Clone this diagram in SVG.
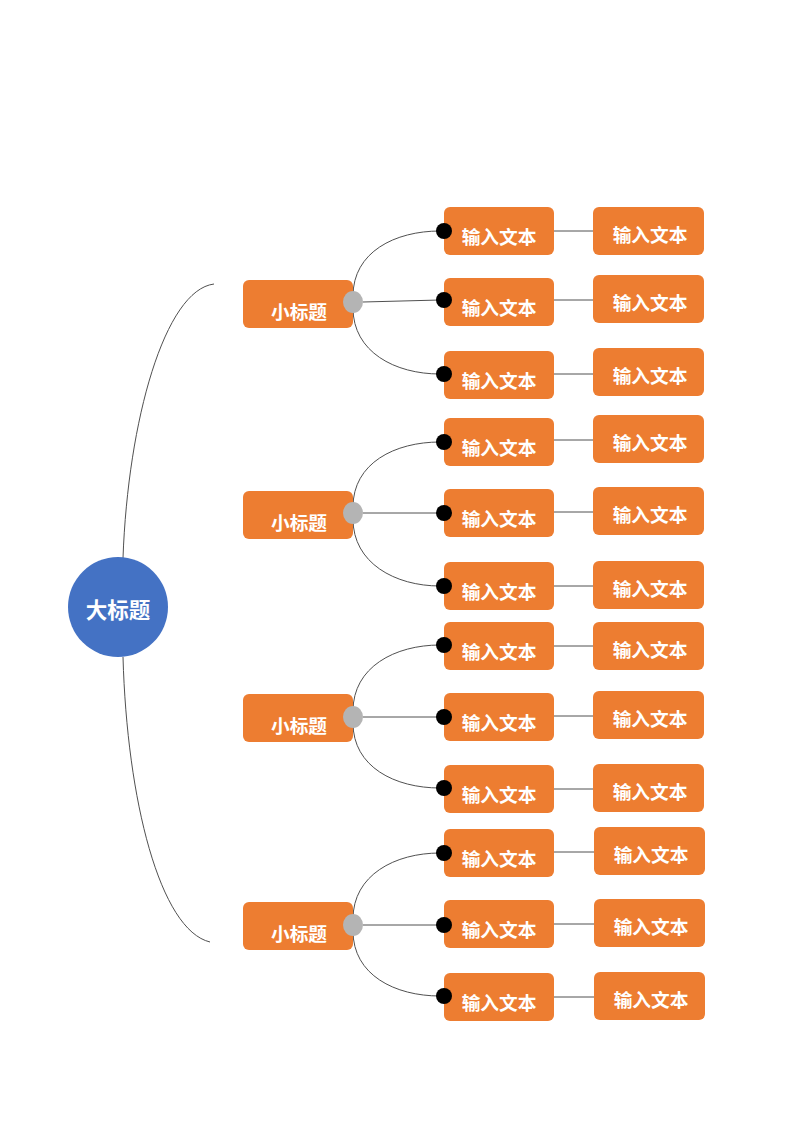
<svg xmlns="http://www.w3.org/2000/svg" width="800" height="1131" viewBox="0 0 800 1131">
<style>
.box{fill:#ED7D31}
.t{fill:#fff;font-family:"Noto Sans CJK SC","Liberation Sans",sans-serif;font-weight:bold;text-anchor:middle;dominant-baseline:central}
.t1{font-size:18.7px}
.t0{font-size:21.5px}
.ln{fill:none;stroke:#505050;stroke-width:1}
.dot{fill:#000}
.knob{fill:#B4B4B4}
</style>
<rect width="800" height="1131" fill="#fff"/>
<g id="connectors">
<path class="ln" d="M214,284 C165,290 128,420 123,558"/>
<path class="ln" d="M123,657 C127,800 160,930 210,942"/>
<!-- group 1 -->
<path class="ln" d="M353,296 C353,252 395,231 440,231"/>
<path class="ln" d="M363,302 L440,300"/>
<path class="ln" d="M353,308 C353,352 395,374 440,374"/>
<path class="ln" d="M554,231 L593,231"/>
<path class="ln" d="M554,300 L593,300"/>
<path class="ln" d="M554,374 L593,374"/>
<!-- group 2 -->
<path class="ln" d="M353,507 C353,463 395,442 440,442"/>
<path class="ln" d="M363,513 L440,513"/>
<path class="ln" d="M353,519 C353,563 395,586 440,586"/>
<path class="ln" d="M554,440 L593,440"/>
<path class="ln" d="M554,512 L593,512"/>
<path class="ln" d="M554,586 L593,586"/>
<!-- group 3 -->
<path class="ln" d="M353,711 C353,667 395,645 440,645"/>
<path class="ln" d="M363,717 L440,717"/>
<path class="ln" d="M353,723 C353,767 395,788 440,788"/>
<path class="ln" d="M554,646 L593,646"/>
<path class="ln" d="M554,716 L593,716"/>
<path class="ln" d="M554,789 L593,789"/>
<!-- group 4 -->
<path class="ln" d="M353,919 C353,875 395,853 440,853"/>
<path class="ln" d="M363,925 L440,925"/>
<path class="ln" d="M353,931 C353,975 395,996 440,996"/>
<path class="ln" d="M554,852 L594,852"/>
<path class="ln" d="M554,924 L594,924"/>
<path class="ln" d="M554,997 L594,997"/>
</g>
<g id="root">
<circle cx="118" cy="607" r="50" fill="#4472C4"/>
<text class="t t0" x="118" y="608">大标题</text>
</g>
<g id="sub1"><rect class="box" x="243" y="280" width="110" height="48" rx="6"/><text class="t t1" x="299" y="310">小标题</text></g>
<g id="sub2"><rect class="box" x="243" y="491" width="110" height="48" rx="6"/><text class="t t1" x="299" y="521">小标题</text></g>
<g id="sub3"><rect class="box" x="243" y="694" width="110" height="48" rx="6"/><text class="t t1" x="299" y="724">小标题</text></g>
<g id="sub4"><rect class="box" x="243" y="902" width="110" height="48" rx="6"/><text class="t t1" x="299" y="932">小标题</text></g>

<g id="g1a1"><rect class="box" x="444" y="207" width="110" height="48" rx="6"/><text class="t t1" x="499" y="235">输入文本</text></g>
<g id="g1a2"><rect class="box" x="444" y="278" width="110" height="48" rx="6"/><text class="t t1" x="499" y="306">输入文本</text></g>
<g id="g1a3"><rect class="box" x="444" y="351" width="110" height="48" rx="6"/><text class="t t1" x="499" y="379">输入文本</text></g>
<g id="g1b1"><rect class="box" x="593" y="207" width="111" height="48" rx="6"/><text class="t t1" x="650" y="233">输入文本</text></g>
<g id="g1b2"><rect class="box" x="593" y="275" width="111" height="48" rx="6"/><text class="t t1" x="650" y="301">输入文本</text></g>
<g id="g1b3"><rect class="box" x="593" y="348" width="111" height="48" rx="6"/><text class="t t1" x="650" y="374">输入文本</text></g>

<g id="g2a1"><rect class="box" x="444" y="418" width="110" height="48" rx="6"/><text class="t t1" x="499" y="446">输入文本</text></g>
<g id="g2a2"><rect class="box" x="444" y="489" width="110" height="48" rx="6"/><text class="t t1" x="499" y="517">输入文本</text></g>
<g id="g2a3"><rect class="box" x="444" y="562" width="110" height="48" rx="6"/><text class="t t1" x="499" y="590">输入文本</text></g>
<g id="g2b1"><rect class="box" x="593" y="415" width="111" height="48" rx="6"/><text class="t t1" x="650" y="441">输入文本</text></g>
<g id="g2b2"><rect class="box" x="593" y="487" width="111" height="48" rx="6"/><text class="t t1" x="650" y="513">输入文本</text></g>
<g id="g2b3"><rect class="box" x="593" y="561" width="111" height="48" rx="6"/><text class="t t1" x="650" y="587">输入文本</text></g>

<g id="g3a1"><rect class="box" x="444" y="622" width="110" height="48" rx="6"/><text class="t t1" x="499" y="650">输入文本</text></g>
<g id="g3a2"><rect class="box" x="444" y="693" width="110" height="48" rx="6"/><text class="t t1" x="499" y="721">输入文本</text></g>
<g id="g3a3"><rect class="box" x="444" y="765" width="110" height="48" rx="6"/><text class="t t1" x="499" y="793">输入文本</text></g>
<g id="g3b1"><rect class="box" x="593" y="622" width="111" height="48" rx="6"/><text class="t t1" x="650" y="648">输入文本</text></g>
<g id="g3b2"><rect class="box" x="593" y="691" width="111" height="48" rx="6"/><text class="t t1" x="650" y="717">输入文本</text></g>
<g id="g3b3"><rect class="box" x="593" y="764" width="111" height="48" rx="6"/><text class="t t1" x="650" y="790">输入文本</text></g>

<g id="g4a1"><rect class="box" x="444" y="829" width="110" height="48" rx="6"/><text class="t t1" x="499" y="857">输入文本</text></g>
<g id="g4a2"><rect class="box" x="444" y="900" width="110" height="48" rx="6"/><text class="t t1" x="499" y="928">输入文本</text></g>
<g id="g4a3"><rect class="box" x="444" y="973" width="110" height="48" rx="6"/><text class="t t1" x="499" y="1001">输入文本</text></g>
<g id="g4b1"><rect class="box" x="594" y="827" width="111" height="48" rx="6"/><text class="t t1" x="651" y="853">输入文本</text></g>
<g id="g4b2"><rect class="box" x="594" y="899" width="111" height="48" rx="6"/><text class="t t1" x="651" y="925">输入文本</text></g>
<g id="g4b3"><rect class="box" x="594" y="972" width="111" height="48" rx="6"/><text class="t t1" x="651" y="998">输入文本</text></g>

<g id="ends">
<ellipse class="knob" cx="353" cy="302" rx="10" ry="11"/>
<ellipse class="knob" cx="353" cy="513" rx="10" ry="11"/>
<ellipse class="knob" cx="353" cy="717" rx="10" ry="11"/>
<ellipse class="knob" cx="353" cy="925" rx="10" ry="11"/>
<circle class="dot" cx="444" cy="231" r="8"/>
<circle class="dot" cx="444" cy="300" r="8"/>
<circle class="dot" cx="444" cy="374" r="8"/>
<circle class="dot" cx="444" cy="442" r="8"/>
<circle class="dot" cx="444" cy="513" r="8"/>
<circle class="dot" cx="444" cy="586" r="8"/>
<circle class="dot" cx="444" cy="645" r="8"/>
<circle class="dot" cx="444" cy="717" r="8"/>
<circle class="dot" cx="444" cy="788" r="8"/>
<circle class="dot" cx="444" cy="853" r="8"/>
<circle class="dot" cx="444" cy="925" r="8"/>
<circle class="dot" cx="444" cy="996" r="8"/>
</g>
</svg>
